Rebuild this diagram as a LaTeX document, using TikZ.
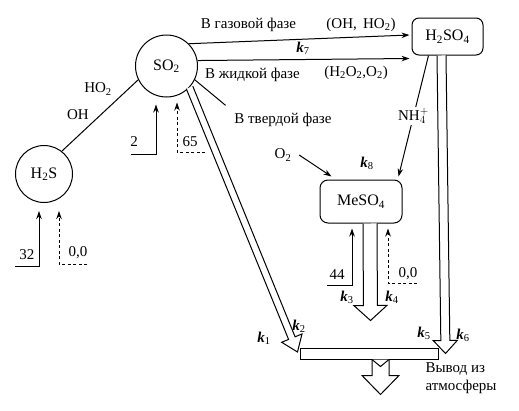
\documentclass[tikz,border=0pt]{standalone}
\usepackage{fontspec}
\setmainfont{Liberation Serif}
\usetikzlibrary{calc,arrows.meta}
\newcommand\kidx[1]{\textbf{\textit{k}}\textsubscript{#1}}
\newcommand\hollowarrow[5]{%
  \coordinate (ha-c) at ($(#2)!#5!(#1)$);
  \draw[fill=white] ($(#1)!#3!90:(#2)$) -- ($(ha-c)!#3!90:(#2)$) -- ($(ha-c)!#4!90:(#2)$) -- (#2)
     -- ($(ha-c)!#4!-90:(#2)$) -- ($(ha-c)!#3!-90:(#2)$) -- ($(#1)!#3!-90:(#2)$);
}
\begin{document}
\begin{tikzpicture}[x=1pt,y=-1pt, line width=1pt,
  every node/.style={font=\fontsize{15}{18}\selectfont},
  chem/.style={font=\fontsize{16}{18}\selectfont},
  arr/.style={-{Stealth[length=8pt,width=5.5pt]}},
  dsh/.style={dash pattern=on 3pt off 2.5pt},
]
\useasboundingbox (0,0) rectangle (519,410);

% main nodes
\node[draw,circle,chem,minimum size=62pt,inner sep=0] (so2) at (166.5,66) {SO\textsubscript{2}};
\node[draw,circle,chem,minimum size=57pt,inner sep=0] (h2s) at (44,174) {H\textsubscript{2}S};
\node[draw,rounded corners=7pt,chem,minimum width=71pt,minimum height=37pt] (h2so4) at (447.5,36.5) {H\textsubscript{2}SO\textsubscript{4}};
\node[draw,rounded corners=8pt,chem,minimum width=82pt,minimum height=43pt] (meso4) at (361,201.5) {MeSO\textsubscript{4}};
\node[draw,minimum width=138pt,minimum height=11pt,inner sep=0] (bar) at (369,353.5) {};

% SO2 -- H2S
\draw (so2.206) -- (h2s.52);
\node (ho2) at (98,89) {HO\textsubscript{2}};
\node (oh) at (78,115) {OH};

% top arrows
\coordinate (g1) at ([xshift=-2pt,yshift=1.5pt]h2so4.west);
\coordinate (g2) at ([xshift=-2pt,yshift=-3pt]h2so4.south west);
\draw[arr] (so2.45) -- (g1);
\draw[arr] (so2.10) -- (g2);
\node (gas) at (248.5,25) {В газовой фазе};
\node (gasr) at (361,25) {(OH,\, HO\textsubscript{2})};
\node (k7) at (303,48) {\kidx{7}};
\node (liq) at (252.5,75) {В жидкой фазе};
\node (liqr) at (356,73) {(H\textsubscript{2}O\textsubscript{2},O\textsubscript{2})};
\node (tv) at (283,120) {В твердой фазе};
\draw (so2.-26) -- ([shift={(-5pt,4pt)}]tv.north west);

% NH4+ and O2
\draw[arr] ([xshift=-19pt]h2so4.south) -- node[fill=white,inner sep=1pt] (nh4) {$\mathrm{NH}_4^+$} ([xshift=-4pt,yshift=3pt]meso4.north east);
\node (o2) at (283,155) {O\textsubscript{2}};
\draw[arr] ([xshift=4pt]o2.east) -- ([xshift=12pt,yshift=3pt]meso4.north west);
\node (k8) at (367,163) {\kidx{8}};

% inputs SO2
\coordinate (a2) at (131,154);
\coordinate (a65) at (205,152);
\draw[arr] (a2) -| ([xshift=-10.5pt,yshift=-7pt]so2.south);
\draw[arr,dsh] (a65) -| ([xshift=10.5pt,yshift=-5pt]so2.south);
\node (n2) at (134,142) {2};
\node (n65) at (190,142) {65};

% inputs H2S
\coordinate (a32) at (15,266);
\coordinate (a00) at (87,264);
\draw[arr] (a32) -| ([xshift=-5pt,yshift=-8pt]h2s.south);
\draw[arr,dsh] (a00) -| ([xshift=15pt,yshift=-8pt]h2s.south);
\node (n32) at (27,255) {32};
\node (n00) at (78,253) {0,0};

% inputs MeSO4
\coordinate (a44) at (327,285);
\coordinate (b00) at (417,283);
\draw[arr] (a44) -| ([xshift=-9pt,yshift=-5pt]meso4.south);
\draw[arr,dsh] (b00) -| ([xshift=27pt,yshift=-5pt]meso4.south);
\node (n44) at (337,275) {44};
\node (m00) at (408,274) {0,0};

% hollow arrows
\coordinate (tA) at ([xshift=-2pt,yshift=1.5pt]bar.west);
\coordinate (tB) at ([xshift=7pt]bar.east);
\coordinate (tC) at ([xshift=9.5pt,yshift=-97pt]meso4.south);
\coordinate (sB) at ([xshift=-6pt]h2so4.south);
\coordinate (sC) at ([xshift=9pt]meso4.south);
\hollowarrow{so2.-43}{tA}{3.5pt}{11pt}{15pt}
\hollowarrow{sB}{tB}{4.5pt}{12pt}{13pt}
\hollowarrow{sC}{tC}{7pt}{16.5pt}{15pt}

% output arrow
\begin{scope}[shift={(bar.south)}]
  \draw[fill=white] (3,0) -- (3,16) -- (-7,16) -- (11.5,35) -- (30,16) -- (20,16) -- (20,0);
  \draw (3,0) -- (11.5,7) -- (20,0);
\end{scope}

% k labels
\node (k1) at (264,338) {\kidx{1}};
\node (k2) at (299,326) {\kidx{2}};
\node (k3) at (347,297) {\kidx{3}};
\node (k4) at (392,297) {\kidx{4}};
\node (k5) at (424,333) {\kidx{5}};
\node (k6) at (463,335) {\kidx{6}};

\node[align=left,anchor=north west,inner sep=0] (out) at (425,362) {Вывод из\\атмосферы};
\end{tikzpicture}
\end{document}
